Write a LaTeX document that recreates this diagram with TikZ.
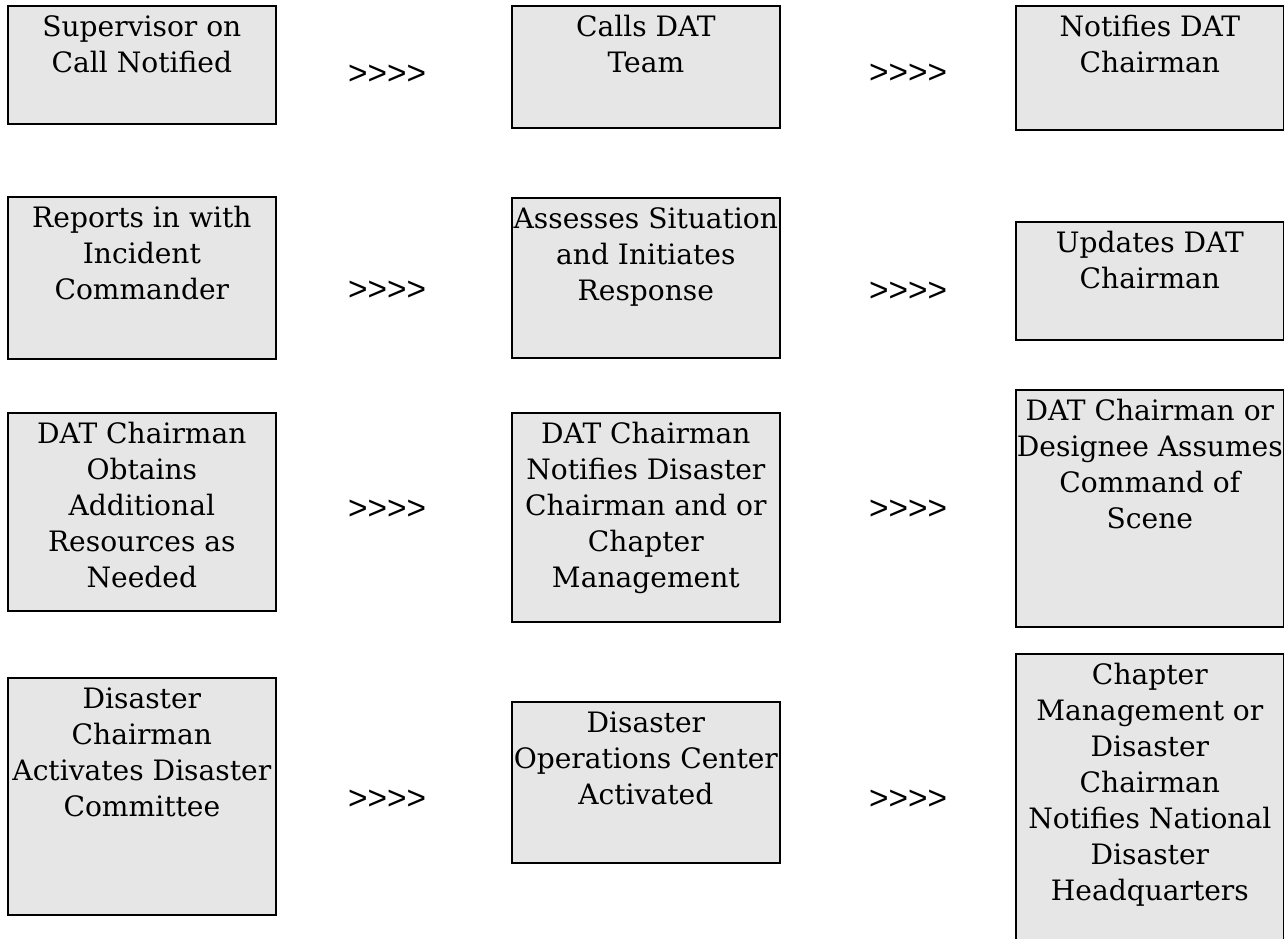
\documentclass[tikz,border=0pt]{standalone}
\usepackage{fontspec}
\setmainfont{DejaVu Serif}
\newfontfamily\chevfont{Liberation Sans}
\usetikzlibrary{positioning}
\definecolor{BoxGray}{HTML}{E6E6E6}
\newcommand{\steptext}[2]{\parbox[t][#1][t]{5.36cm}{\centering
  \leftskip=0pt plus 1fil minus 0.3cm\rightskip=0pt plus 1fil minus 0.3cm
  \rule{0pt}{0.62cm}#2}}
\tikzset{
  stepbox/.style={draw=black,line width=1pt,fill=BoxGray,inner sep=0pt,anchor=north west,
    font=\fontsize{16}{20.5}\selectfont},
  chevrons/.style={inner sep=0pt,font=\chevfont\fontsize{19}{19}\selectfont}
}

\begin{document}
\begin{tikzpicture}[x=0.02cm,y=-0.02cm]
    \useasboundingbox (0,0) rectangle (1284,939);

    \node[stepbox] (supervisor) at (7,5) {\steptext{2.36cm}{Supervisor on\\Call Notified}};
    \node[stepbox] (calls) at (511,5) {\steptext{2.44cm}{Calls DAT\\Team}};
    \node[stepbox] (notifies) at (1015,5) {\steptext{2.48cm}{Notifies DAT\\Chairman}};

    \node[stepbox] (reports) at (7,196) {\steptext{3.24cm}{Reports in with\\Incident\\Commander}};
    \node[stepbox] (assesses) at (511,197) {\steptext{3.2cm}{Assesses Situation\\and Initiates\\Response}};
    \node[stepbox] (updates) at (1015,221) {\steptext{2.36cm}{Updates DAT\\Chairman}};

    \node[stepbox] (obtains) at (7,412) {\steptext{3.96cm}{DAT Chairman\\Obtains\\Additional\\Resources as\\Needed}};
    \node[stepbox] (chairnotif) at (511,412) {\steptext{4.18cm}{DAT Chairman\\Notifies Disaster\\Chairman and or\\Chapter\\Management}};
    \node[stepbox] (command) at (1015,389) {\steptext{4.74cm}{DAT Chairman or\\Designee Assumes\\Command of\\Scene}};

    \node[stepbox] (committee) at (7,677) {\steptext{4.74cm}{Disaster\\Chairman\\Activates Disaster\\Committee}};
    \node[stepbox] (doc) at (511,701) {\steptext{3.22cm}{Disaster\\Operations Center\\Activated}};
    \node[stepbox] (national) at (1015,653) {\steptext{6cm}{Chapter\\Management or\\Disaster\\Chairman\\Notifies National\\Disaster\\Headquarters}};

    \node[chevrons] (go1) at (387,75) {>>>>};
    \node[chevrons] (go2) at (908,74) {>>>>};
    \node[chevrons] (go3) at (387,291) {>>>>};
    \node[chevrons] (go4) at (908,292) {>>>>};
    \node[chevrons] (go5) at (387,510) {>>>>};
    \node[chevrons] (go6) at (908,510) {>>>>};
    \node[chevrons] (go7) at (387,800) {>>>>};
    \node[chevrons] (go8) at (908,800) {>>>>};
\end{tikzpicture}
\end{document}
